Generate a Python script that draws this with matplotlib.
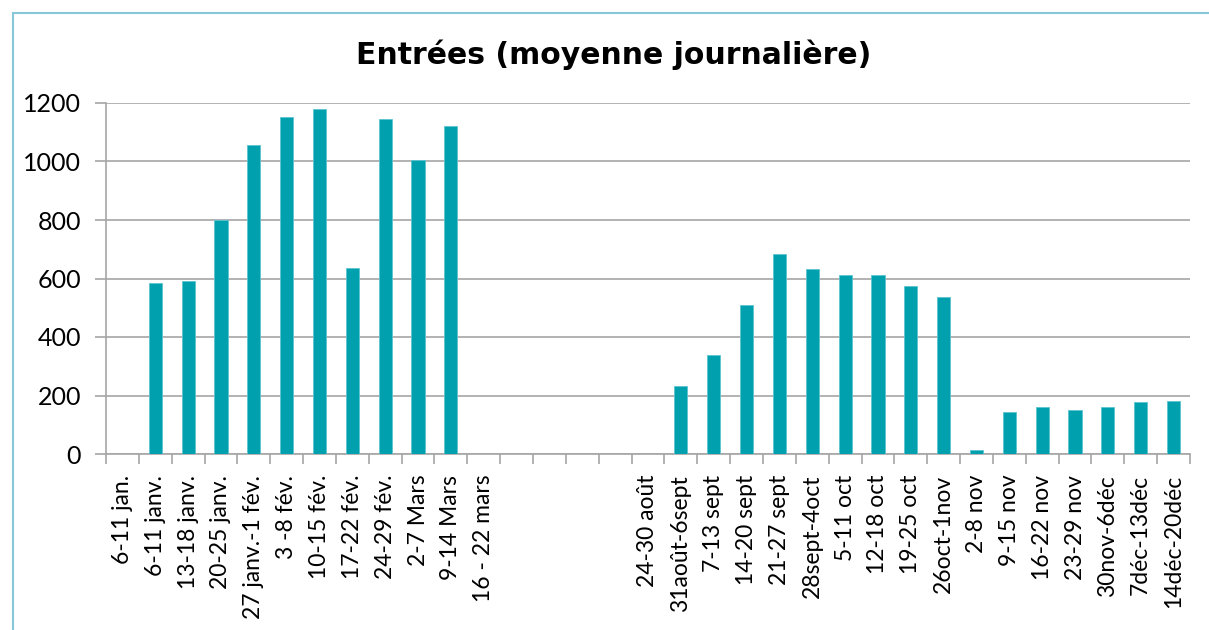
import matplotlib
matplotlib.use("Agg")
import matplotlib.pyplot as plt
from matplotlib.patches import Rectangle
import numpy as np

categories = ["6-11 jan.", "6-11 janv.", "13-18 janv.", "20-25 janv.", "27 janv.-1 fév.",
              "3 -8 fév.", "10-15 fév.", "17-22 fév.", "24-29 fév.", "2-7 Mars",
              "9-14 Mars", "16 - 22 mars", "", "", "", "",
              "24-30 août", "31août-6sept", "7-13 sept", "14-20 sept", "21-27 sept",
              "28sept-4oct", "5-11 oct", "12-18 oct", "19-25 oct", "26oct-1nov",
              "2-8 nov", "9-15 nov", "16-22 nov", "23-29 nov", "30nov-6déc",
              "7déc-13déc", "14déc-20déc"]
values = [np.nan, 585, 590, 800, 1055, 1151, 1180, 635, 1145, 1006,
          1121, np.nan, np.nan, np.nan, np.nan, np.nan,
          np.nan, 232, 338, 509, 684, 632, 611, 613, 576, 538,
          15, 143, 160, 150, 160, 178, 180]
yticks = [0, 200, 400, 600, 800, 1000, 1200]
title = "Entrées (moyenne journalière)"

fig = plt.figure(figsize=(12.09, 6.3), dpi=100)
ax = fig.add_axes([106/1209, 1-454/630, (1190-106)/1209, (454-103)/630])

x = np.arange(len(categories))
ax.bar(x, np.nan_to_num(values), width=0.4, color="#00A0AF", edgecolor="#5CC4CE",
       linewidth=0.6, zorder=3)

ax.set_xlim(-0.5, len(categories) - 0.5)
ax.set_ylim(0, 1200)
ax.set_yticks(yticks)
ax.set_yticklabels([str(v) for v in yticks], family="Lato")
ax.yaxis.grid(True, color="#A6A6A6", linewidth=1.2, zorder=0)
ax.tick_params(axis="y", length=8, width=1.2, color="#A6A6A6", labelsize=18, pad=10)

ax.set_xticks(x)
ax.set_xticklabels(categories, rotation=90, fontsize=16.5, va="top", family="Lato")
ax.set_xticks(np.arange(-0.5, len(categories)), minor=True)
ax.tick_params(axis="x", which="major", length=0, pad=15)
ax.tick_params(axis="x", which="minor", length=7, width=1.2, color="#A6A6A6")

for s in ["top", "right"]:
    ax.spines[s].set_visible(False)
for s in ["left", "bottom"]:
    ax.spines[s].set_color("#A6A6A6")
    ax.spines[s].set_linewidth(1.2)

fig.text(614/1209, 1 - 55/630, title, ha="center", va="center", fontsize=21.5,
         fontweight="bold", family="DejaVu Sans")

fig.patches.append(Rectangle((13/1209, -0.1), 1.2, 1 - 13/630 + 0.1,
                             transform=fig.transFigure, fill=False,
                             edgecolor="#86C8DA", linewidth=1.5))

fig.savefig("out.png", dpi=100)
